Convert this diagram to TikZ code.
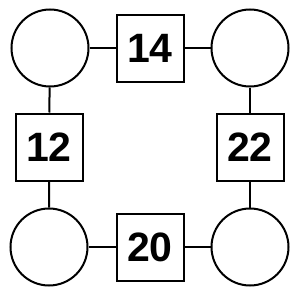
\documentclass[tikz,border=0pt]{standalone}
\usepackage{fontspec}
\setmainfont{Liberation Sans}
\usetikzlibrary{positioning}
\tikzset{
  every path/.style={
    black,
    line width=2pt
  },
  spot/.style={
    circle,
    draw,
    minimum size=77pt,
    inner sep=0pt
  },
  numbox/.style={
    rectangle,
    draw,
    minimum size=67pt,
    inner sep=0pt,
    font=\fontsize{41}{41}\selectfont\bfseries
  }
}

\begin{document}
\begin{tikzpicture}[x=1pt,y=-1pt]
\useasboundingbox (0,0) rectangle (300,300);
\node[spot] (tl) at (50,48) {};
\node[spot] (tr) at (250,48) {};
\node[spot] (bl) at (49,247) {};
\node[spot] (br) at (250,247) {};
\node[numbox] (top) at (150,48) {14};
\node[numbox] (left) at (49,147) {12};
\node[numbox] (right) at (250,147) {22};
\node[numbox] (bottom) at (150,247) {20};
\draw (tl) -- (top) -- (tr);
\draw (tl) -- (left) -- (bl);
\draw (tr) -- (right) -- (br);
\draw (bl) -- (bottom) -- (br);
\end{tikzpicture}
\end{document}
